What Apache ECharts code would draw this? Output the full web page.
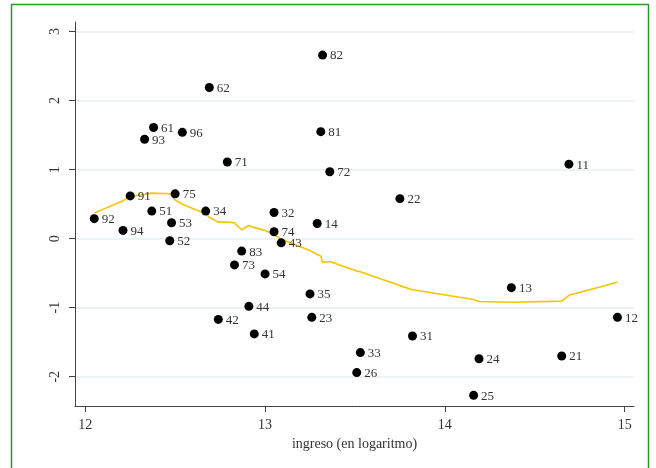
<!DOCTYPE html>
<html>
<head>
<meta charset="utf-8">
<script src="https://cdn.jsdelivr.net/npm/echarts@6/dist/echarts.min.js"></script>
<style>
  html, body { margin: 0; padding: 0; background: #fff; }
  #chart { width: 656px; height: 468px; }
</style>
</head>
<body>
<div id="chart"></div>
<script>
// Region codes with log income (x) and residual score (y)
const codes = ['92','91','94','93','61','96','51','53','52','75','62','71','34','83','73','54','44','42','41',
               '32','74','43','14','82','81','72','35','23','22','33','26','31','24','25','13','21','11','12'];
const logIncome = [12.05,12.25,12.21,12.33,12.38,12.54,12.37,12.48,12.47,12.50,12.69,12.79,12.67,12.87,12.83,13.00,12.91,12.74,12.94,
                   13.05,13.05,13.09,13.29,13.32,13.31,13.36,13.25,13.26,13.75,13.53,13.51,13.82,14.19,14.16,14.37,14.65,14.69,14.96];
const score = [0.29,0.62,0.12,1.44,1.61,1.54,0.40,0.23,-0.03,0.65,2.19,1.11,0.40,-0.18,-0.38,-0.51,-0.98,-1.17,-1.38,
               0.38,0.10,-0.06,0.22,2.66,1.55,0.97,-0.80,-1.14,0.58,-1.65,-1.94,-1.41,-1.74,-2.27,-0.71,-1.70,1.08,-1.14];

// Smoothed fit (lowess), evaluated at the sorted incomes
const smoothX = [12.05,12.21,12.25,12.33,12.37,12.38,12.47,12.48,12.50,12.54,12.67,12.69,12.74,12.79,12.83,12.87,12.91,12.94,13.00,
                 13.05,13.09,13.25,13.26,13.29,13.31,13.32,13.36,13.51,13.53,13.75,13.82,14.16,14.19,14.37,14.65,14.69,14.96];
const smoothY = [0.37,0.55,0.61,0.64,0.66,0.66,0.65,0.65,0.56,0.50,0.36,0.31,0.24,0.24,0.23,0.13,0.19,0.16,0.12,
                 0.06,-0.01,-0.17,-0.19,-0.23,-0.25,-0.34,-0.33,-0.47,-0.48,-0.68,-0.74,-0.88,-0.91,-0.92,-0.905,-0.82,-0.63];

const xTicks = [12, 13, 14, 15];
const yTicks = [-2, -1, 0, 1, 2, 3];

const serif = '"Liberation Serif", "DejaVu Serif", serif';
const textColor = '#333';
const axisColor = '#444';

const points = codes.map((c, i) => [logIncome[i], score[i], c]);
const smooth = smoothX.map((x, i) => [x, smoothY[i]]);

const chart = echarts.init(document.getElementById('chart'), null, { renderer: 'canvas' });
chart.setOption({
  animation: false,
  backgroundColor: '#fff',
  grid: { left: 75, right: 22, top: 22, bottom: 62 },
  graphic: [{
    type: 'rect',
    silent: true,
    shape: { x: 11.5, y: 4.5, width: 637, height: 480 },
    style: { fill: 'none', stroke: '#259a25', lineWidth: 1.5 }
  }],
  xAxis: {
    type: 'value',
    min: 11.943,
    max: 15.052,
    name: 'ingreso (en logaritmo)',
    nameLocation: 'middle',
    nameGap: 28,
    nameTextStyle: { fontFamily: serif, fontSize: 14, color: textColor },
    axisLine: { onZero: false, lineStyle: { color: axisColor, width: 1 } },
    axisTick: { show: true, length: 6, customValues: xTicks, lineStyle: { color: axisColor } },
    axisLabel: { customValues: xTicks, margin: 12, fontFamily: serif, fontSize: 14, color: textColor },
    splitLine: { show: false }
  },
  yAxis: {
    type: 'value',
    min: -2.424,
    max: 3.139,
    axisLine: { show: true, onZero: false, lineStyle: { color: axisColor, width: 1 } },
    axisTick: { show: true, length: 6, customValues: yTicks, lineStyle: { color: axisColor } },
    axisLabel: { customValues: yTicks, rotate: 90, margin: 13, fontFamily: serif, fontSize: 14, color: textColor },
    splitLine: { show: true, lineStyle: { color: '#e8eef0', width: 1.5 } }
  },
  series: [
    {
      type: 'line',
      data: smooth,
      showSymbol: false,
      symbol: 'none',
      lineStyle: { color: '#f5c400', width: 1.6 },
      z: 2
    },
    {
      type: 'scatter',
      data: points,
      symbol: 'circle',
      symbolSize: 9,
      itemStyle: { color: '#000', opacity: 1 },
      label: {
        show: true,
        position: 'right',
        distance: 3,
        offset: [0, 1],
        formatter: p => p.data[2],
        fontFamily: serif,
        fontSize: 13,
        color: textColor
      },
      z: 3
    }
  ]
});
</script>
</body>
</html>
